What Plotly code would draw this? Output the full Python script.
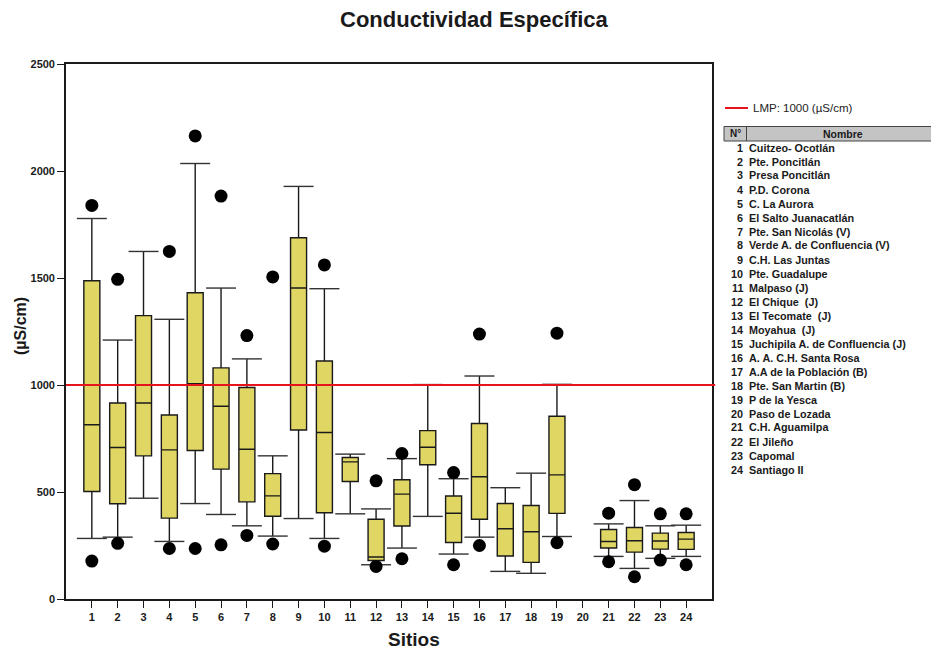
import plotly.graph_objects as go

# Box-plot statistics per site (µS/cm); site 20 has no data
sites = list(range(1, 25))
upper_whisker = [1778, 1210, 1624, 1307, 2035, 1453, 1122, 669, 1928, 1450, 677, 421,
                 656, 1002, 562, 1042, 520, 588, 1003, None, 351, 460, 342, 345]
q3 = [1487, 916, 1324, 860, 1431, 1080, 988, 586, 1688, 1112, 661, 373,
      557, 787, 481, 820, 446, 437, 854, None, 325, 334, 308, 311]
median = [814, 708, 916, 697, 1006, 901, 700, 482, 1453, 778, 641, 196,
          490, 709, 401, 571, 328, 314, 580, None, 269, 272, 271, 280]
q1 = [502, 445, 669, 378, 694, 607, 454, 387, 790, 403, 549, 180,
      341, 627, 264, 373, 201, 171, 400, None, 238, 219, 233, 232]
lower_whisker = [283, 289, 471, 269, 446, 395, 342, 294, 376, 283, 398, 160,
                 238, 386, 210, 289, 129, 120, 292, None, 199, 143, 190, 199]

# Outliers (site, value)
outlier_site = [1, 1, 2, 2, 4, 4, 5, 5, 6, 6, 7, 7, 8, 8, 10, 10, 12, 12, 13, 13,
                15, 15, 16, 16, 19, 19, 21, 21, 22, 22, 23, 23, 24, 24]
outlier_value = [1839, 177, 1494, 260, 1624, 236, 2164, 236, 1883, 253, 1231, 297,
                 1505, 257, 1561, 247, 552, 152, 680, 188, 591, 160, 1238, 250,
                 1242, 263, 401, 174, 534, 104, 398, 182, 398, 160]

lmp = 1000

site_names = [
    "Cuitzeo- Ocotlán", "Pte. Poncitlán", "Presa Poncitlán", "P.D. Corona",
    "C. La Aurora", "El Salto Juanacatlán", "Pte. San Nicolás (V)",
    "Verde A. de Confluencia (V)", "C.H. Las Juntas", "Pte. Guadalupe",
    "Malpaso (J)", "El Chique  (J)", "El Tecomate  (J)", "Moyahua  (J)",
    "Juchipila A. de Confluencia (J)", "A. A. C.H. Santa Rosa",
    "A.A de la Población (B)", "Pte. San Martin (B)", "P de la Yesca",
    "Paso de Lozada", "C.H. Aguamilpa", "El Jileño", "Capomal", "Santiago II",
]

yticks = [0, 500, 1000, 1500, 2000, 2500]

FONT = "Liberation Sans, Arial, sans-serif"
BOX_FILL = "#e0d663"
INK = "#1a1a1a"

valid = [i for i, m in enumerate(median) if m is not None]

fig = go.Figure()

fig.add_trace(go.Box(
    x=[sites[i] for i in valid],
    q1=[q1[i] for i in valid],
    median=[median[i] for i in valid],
    q3=[q3[i] for i in valid],
    lowerfence=[lower_whisker[i] for i in valid],
    upperfence=[upper_whisker[i] for i in valid],
    width=0.62,
    whiskerwidth=0,
    fillcolor=BOX_FILL,
    line=dict(color=INK, width=1.4),
    boxpoints=False,
    hoverinfo="skip",
    showlegend=False,
))

# Whisker caps (wider than the boxes)
cap_half = 0.58
cap_x, cap_y = [], []
for i in valid:
    for v in (upper_whisker[i], lower_whisker[i]):
        cap_x += [sites[i] - cap_half, sites[i] + cap_half, None]
        cap_y += [v, v, None]
fig.add_trace(go.Scatter(
    x=cap_x, y=cap_y, mode="lines",
    line=dict(color="#333333", width=1.4),
    hoverinfo="skip", showlegend=False,
))

fig.add_trace(go.Scatter(
    x=outlier_site, y=outlier_value, mode="markers",
    marker=dict(color="black", size=13, line=dict(width=0)),
    hoverinfo="skip", showlegend=False,
))

# Layout geometry in pixels
W, H = 931, 651
L, R, T, B = 66, 219, 64, 52
PW, PH = W - L - R, H - T - B


def px(xp):
    return (xp - L) / PW


def py(yp):
    return (H - B - yp) / PH


shapes = [
    # Limit line
    dict(type="line", xref="paper", yref="y", x0=0, x1=1.005, y0=lmp, y1=lmp,
         line=dict(color="#e8141b", width=2), layer="above"),
    # Legend sample line
    dict(type="line", xref="paper", yref="paper", x0=px(725), x1=px(748),
         y0=py(108), y1=py(108), line=dict(color="#e8141b", width=2)),
    # Table header
    dict(type="rect", xref="paper", yref="paper", x0=px(724), x1=px(933),
         y0=py(141), y1=py(126.5), fillcolor="#c4c4c4",
         line=dict(color="#444444", width=1)),
    dict(type="line", xref="paper", yref="paper", x0=px(746.5), x1=px(746.5),
         y0=py(141), y1=py(126.5), line=dict(color="#444444", width=1)),
]

annotations = [
    dict(text="<b>Conductividad Específica</b>", xref="paper", yref="paper",
         x=px(474), y=py(19), xanchor="center", yanchor="middle",
         showarrow=False, font=dict(family=FONT, size=22, color=INK)),
    dict(text="<b>Sitios</b>", xref="paper", yref="paper",
         x=px(414), y=py(639), xanchor="center", yanchor="middle",
         showarrow=False, font=dict(family=FONT, size=19, color=INK)),
    dict(text="<b>(µS/cm)</b>", xref="paper", yref="paper",
         x=px(20), y=py(326), xanchor="center", yanchor="middle", textangle=-90,
         showarrow=False, font=dict(family=FONT, size=16, color=INK)),
    dict(text="LMP: 1000 (µS/cm)", xref="paper", yref="paper",
         x=px(751), y=py(108), xanchor="left", yanchor="middle",
         showarrow=False, font=dict(family=FONT, size=11.5, color="#222222")),
    dict(text="<b>N°</b>", xref="paper", yref="paper",
         x=px(735), y=py(133.5), xanchor="center", yanchor="middle",
         showarrow=False, font=dict(family=FONT, size=10, color=INK)),
    dict(text="<b>Nombre</b>", xref="paper", yref="paper",
         x=px(843), y=py(133.5), xanchor="center", yanchor="middle",
         showarrow=False, font=dict(family=FONT, size=10.5, color=INK)),
]

for k, name in enumerate(site_names):
    yrow = py(147.5 + 14.0 * k)
    annotations.append(dict(
        text=f"<b>{sites[k]}</b>", xref="paper", yref="paper",
        x=px(744.5), y=yrow, xanchor="right", yanchor="middle",
        showarrow=False, font=dict(family=FONT, size=10.8, color=INK)))
    annotations.append(dict(
        text=f"<b>{name}</b>", xref="paper", yref="paper",
        x=px(746.5), y=yrow, xanchor="left", yanchor="middle",
        showarrow=False, font=dict(family=FONT, size=10.8, color=INK)))

fig.update_layout(
    width=W, height=H,
    margin=dict(l=L, r=R, t=T, b=B, autoexpand=False),
    paper_bgcolor="white", plot_bgcolor="white",
    font=dict(family=FONT, color=INK),
    showlegend=False,
    shapes=shapes,
    annotations=annotations,
    xaxis=dict(
        range=[0, 25], tickmode="array", tickvals=sites,
        ticktext=[str(s) for s in sites],
        ticks="outside", ticklen=7, tickwidth=1.3, tickcolor=INK,
        showline=True, linecolor=INK, linewidth=1.6, mirror=True,
        showgrid=False, zeroline=False,
        tickfont=dict(family=FONT, size=11, color=INK, weight="bold"),
    ),
    yaxis=dict(
        range=[0, 2500], tickmode="array", tickvals=yticks,
        ticktext=[str(v) for v in yticks],
        ticks="outside", ticklen=7, tickwidth=1.3, tickcolor=INK,
        showline=True, linecolor=INK, linewidth=1.6, mirror=True,
        showgrid=False, zeroline=False,
        tickfont=dict(family=FONT, size=11, color=INK, weight="bold"),
    ),
)

fig.write_html("out.html")
